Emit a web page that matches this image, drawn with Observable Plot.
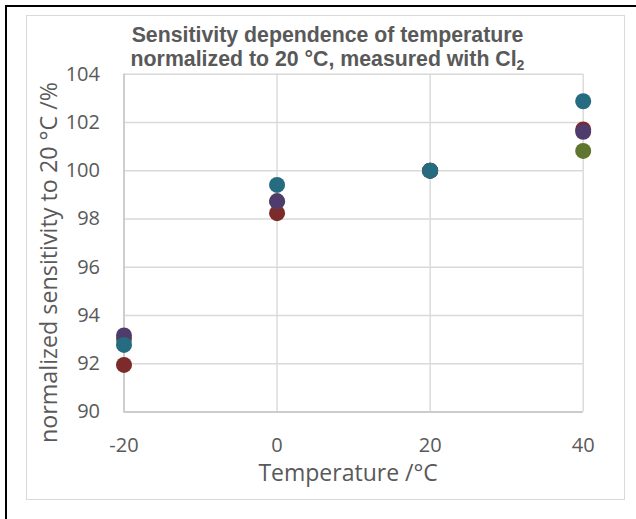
<!DOCTYPE html>
<html>
<head>
<meta charset="utf-8">
<script src="https://cdn.jsdelivr.net/npm/d3@7"></script>
<script src="https://cdn.jsdelivr.net/npm/@observablehq/plot@0.6"></script>
<style>
  html, body { margin: 0; padding: 0; background: #fff; }
  #wrap { position: relative; width: 636px; height: 519px; overflow: hidden; background: #fff; }
  #outer { position: absolute; left: 5px; top: 5px; right: -10px; bottom: -10px; border-top: 2px solid #000; border-left: 2px solid #000; }
  #inner { position: absolute; left: 26px; top: 15px; width: 597px; height: 483px; border: 1.5px solid #d9d9d9; }
  #title { position: absolute; left: 0; top: 22.5px; width: 655px; text-align: center;
           font-family: "Liberation Sans", Arial, sans-serif; font-weight: bold; font-size: 21.3px;
           line-height: 24px; color: #595959; }
  #title .sub { font-size: 14px; position: relative; top: 4px; }
  #chart { position: absolute; left: 0; top: 0; }
</style>
</head>
<body>
<div id="wrap">
  <div id="outer"></div>
  <div id="inner"></div>
  <div id="chart"></div>
  <div id="title"></div>
</div>
<script>
// ---- data ----
const temperatures = [-20, 0, 20, 40];
const seriesNames = ["Sensor 1", "Sensor 2", "Sensor 3", "Sensor 4"];
const seriesColors = ["#7d2a2a", "#607630", "#4f3b6c", "#266c80"];
const sensor1 = [91.95, 98.24, 100, 101.71];   // red
const sensor2 = [93.0, 98.73, 100, 100.82];    // green
const sensor3 = [93.17, 98.73, 100, 101.61];   // purple
const sensor4 = [92.78, 99.41, 100, 102.88];   // teal
const xTicks = [-20, 0, 20, 40];
const xTickLabels = ["-20", "0", "20", "40"];
const yTicks = [90, 92, 94, 96, 98, 100, 102, 104];
const titleLine1 = "Sensitivity dependence of temperature";
const titleLine2 = "normalized to 20 °C, measured with Cl";
const titleSub = "2";
const xLabel = "Temperature /°C";
const yLabel = "normalized sensitivity to 20 °C /%";

// ---- table for Plot ----
const seriesValues = [sensor1, sensor2, sensor3, sensor4];
const rows = [];
seriesValues.forEach((vals, s) => {
  vals.forEach((v, i) => rows.push({series: seriesNames[s], t: temperatures[i], v}));
});

document.getElementById("title").innerHTML =
  titleLine1 + "<br>" + titleLine2 + '<span class="sub">' + titleSub + "</span>";

const chart = Plot.plot({
  width: 636,
  height: 519,
  marginLeft: 123.5,
  marginRight: 53.3,
  marginTop: 73.7,
  marginBottom: 107.5,
  style: {fontFamily: "'Open Sans', sans-serif", fontSize: "20px", color: "#595959", background: "transparent", overflow: "visible"},
  x: {domain: [xTicks[0], xTicks[xTicks.length - 1]], ticks: xTicks, tickSize: 0, tickPadding: 26,
      tickFormat: d => xTickLabels[xTicks.indexOf(d)], label: null},
  y: {domain: [yTicks[0], yTicks[yTicks.length - 1]], ticks: yTicks, tickSize: 0, tickPadding: 24, label: null},
  color: {domain: seriesNames, range: seriesColors},
  marks: [
    Plot.ruleX(xTicks, {stroke: "#d9d9d9", strokeWidth: 1.4}),
    Plot.ruleY(yTicks, {stroke: "#d9d9d9", strokeWidth: 1.4}),
    Plot.ruleX([xTicks[0]], {stroke: "#c4c4c4", strokeWidth: 1.4}),
    Plot.ruleY([yTicks[0]], {stroke: "#c4c4c4", strokeWidth: 1.4}),
    Plot.dot(rows, {x: "t", y: "v", fill: "series", r: 8, stroke: "none"}),
    Plot.text([yLabel], {frameAnchor: "left", textAnchor: "middle", rotate: -90, dx: -74, dy: 19.4, fontSize: 23.3, lineAnchor: "middle", fill: "#595959"}),
    Plot.text([xLabel], {frameAnchor: "bottom", textAnchor: "middle", dx: -5.5, dy: 62, fontSize: 23, lineAnchor: "middle", fill: "#595959"})
  ]
});
document.getElementById("chart").appendChild(chart);
</script>
</body>
</html>
